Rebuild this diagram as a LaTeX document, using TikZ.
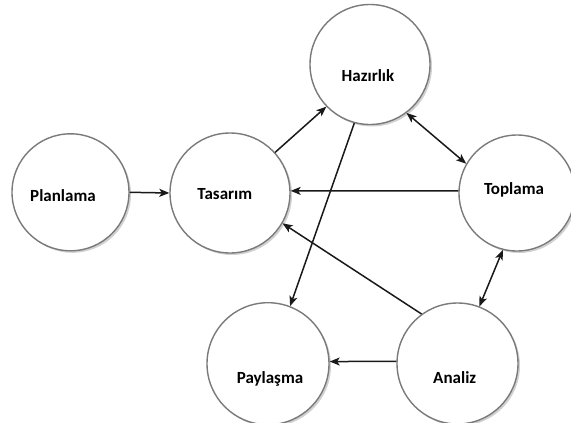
\documentclass[tikz,border=0pt]{standalone}
\usepackage{fontspec}
\setmainfont{Carlito}
\usetikzlibrary{arrows.meta,shadows}
\begin{document}
\begin{tikzpicture}[x=1pt,y=-1pt,
  circ/.style={circle,draw=black!52,line width=1.4pt,fill=white,inner sep=0pt,
    drop shadow={shadow xshift=2pt,shadow yshift=-2pt,opacity=0.4,fill=black!45}},
  lbl/.style={anchor=base,inner sep=0pt,font=\fontsize{17}{20}\selectfont\bfseries},
  tip/.style={Stealth[length=10pt,width=8pt,inset=2.5pt]},
  conn/.style={draw=black!90,line width=1.5pt,-{Stealth[length=10pt,width=8pt,inset=2.5pt]}},
  bconn/.style={draw=black!90,line width=1.5pt,{Stealth[length=10pt,width=8pt,inset=2.5pt]}-{Stealth[length=10pt,width=8pt,inset=2.5pt]}}
]
\useasboundingbox (0,0) rectangle (571,423);
\node[circ,minimum size=117pt] (pla) at (70.5,192.3) {};
\node[circ,minimum size=120pt] (tas) at (230,193) {};
\node[circ,minimum size=120pt] (haz) at (370,64.5) {};
\node[circ,minimum size=116pt] (top) at (517,193) {};
\node[circ,minimum size=122pt] (pay) at (268,363.7) {};
\node[circ,minimum size=121pt] (ana) at (457.5,363.5) {};
\node[lbl] (tpla) at (63,201) {Planlama};
\node[lbl] (ttas) at (224.8,199.5) {Tasarım};
\node[lbl] (thaz) at (368,81) {Hazırlık};
\node[lbl] (ttop) at (514,194) {Toplama};
\node[lbl] (tpay) at (270,383) {Paylaşma};
\node[lbl] (tana) at (454.7,383) {Analiz};
\draw[conn] (pla.east) -- (tas.west);
\draw[conn] (tas.42) -- (haz.224);
\draw[conn] (haz.255.7) -- (pay.69.5);
\draw[conn] (top.178) -- (tas.2);
\draw[conn] (ana.126.8) -- (tas.330.5);
\draw[conn] (ana.178) -- (pay.2);
\draw[bconn] (haz.307.3) -- (top.150.3);
\draw[bconn] (top.256.3) -- (ana.69);
\end{tikzpicture}
\end{document}
